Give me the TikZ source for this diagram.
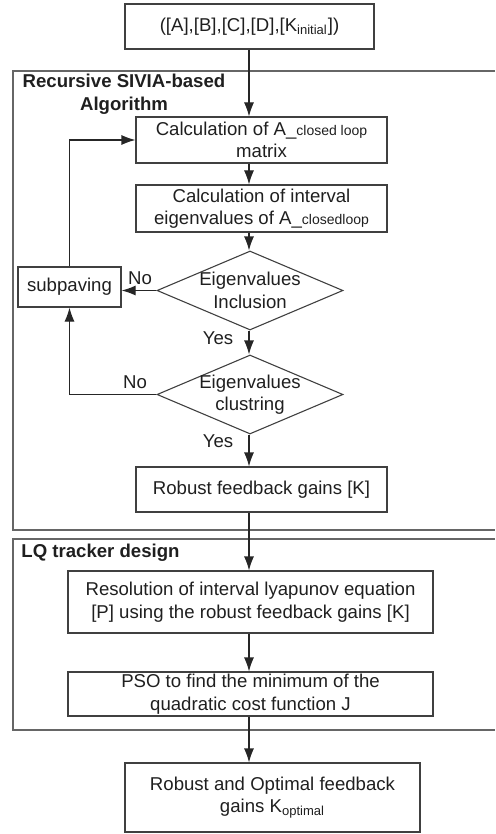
\documentclass[tikz,border=0pt]{standalone}
\usepackage{fontspec}
\setmainfont{Liberation Sans}
\usetikzlibrary{shapes.geometric,arrows.meta}

\newcommand{\sm}[1]{{\fontsize{7}{8}\selectfont #1}}

\tikzstyle{block}=[rectangle, draw=black!75, line width=0.55pt, text centered, align=center, inner sep=0pt]
\tikzstyle{decision}=[diamond, draw=black!75, line width=0.55pt, inner sep=0pt, minimum width=93pt, minimum height=39.5pt]
\tikzstyle{arrow}=[draw=black!85, line width=0.55pt, ->, >={Latex[length=7pt,width=5pt]}]
\tikzstyle{frame}=[draw=black!60, line width=0.85pt]
\tikzstyle{lbl}=[inner sep=0pt]

\begin{document}
\begin{tikzpicture}[x=0.5pt, y=-0.5pt, font=\fontsize{9.3}{11.2}\selectfont, text=black!88]
\useasboundingbox (0,0) rectangle (495,834);

% group frames, open on the right
\draw[frame](495,71)--(13,71)--(13,530)--(495,530);
\draw[frame](495,539)--(13,539)--(13,730)--(495,730);
\node(g1)[lbl, align=center, font=\fontsize{9.3}{11.6}\selectfont\bfseries] at (124,94) {Recursive SIVIA-based\\Algorithm};
\node(g2)[lbl, anchor=west, font=\fontsize{9.3}{11.2}\selectfont\bfseries] at (21,553) {LQ tracker design};

\node(in)[block, minimum width=124.5pt, minimum height=22.5pt] at (249.5,26.5) {([A],[B],[C],[D],[K\textsubscript{initial}])};
\node(calcA)[block, minimum width=125.5pt, minimum height=23pt] at (261.5,140) {Calculation of A\_\sm{closed loop}\\matrix};
\node(eig)[block, minimum width=125.5pt, minimum height=23.5pt] at (261.5,208.5) {Calculation of interval\\eigenvalues of A\_\sm{closedloop}};
\node(incl)[decision, label={[align=center]center:Eigenvalues\\Inclusion}] at (250,290.5) {};
\node(subp)[block, minimum width=51.5pt, minimum height=20pt] at (69.5,287) {subpaving};
\node(clus)[decision, label={[align=center]center:Eigenvalues\\clustring}] at (250,394.5) {};
\node(gains)[block, minimum width=125.5pt, minimum height=22.5pt] at (261.5,489.5) {Robust feedback gains [K]};
\node(lyap)[block, minimum width=182.5pt, minimum height=31pt] at (250.5,602) {Resolution of interval lyapunov equation\\{[P]} using the robust feedback gains [K]};
\node(pso)[block, minimum width=182.5pt, minimum height=22pt] at (250.5,694) {PSO to find the minimum of the\\quadratic cost function J};
\node(out)[block, minimum width=147.5pt, minimum height=34.5pt] at (272.5,797.5) {Robust and Optimal feedback\\gains K\textsubscript{optimal}};

\coordinate(spine) at (249,0);

\draw[arrow](spine |- in.south)--(spine |- calcA.north);
\draw[arrow](spine |- calcA.south)--(spine |- eig.north);
\draw[arrow](spine |- eig.south)--(spine |- incl.north);
\draw[arrow](incl.west)--(subp.east |- incl.west);
\draw[arrow](subp.north)|-(calcA.west);
\draw[arrow](spine |- incl.south)--(spine |- clus.north);
\draw[arrow](clus.west)-|(subp.south);
\draw[arrow](spine |- clus.south)--(spine |- gains.north);
\draw[arrow](spine |- gains.south)--(spine |- lyap.north);
\draw[arrow](spine |- lyap.south)--(spine |- pso.north);
\draw[arrow](spine |- pso.south)--(spine |- out.north);

\node(no1)[lbl] at (140,278) {No};
\node(yes1)[lbl] at (218,338) {Yes};
\node(no2)[lbl] at (135,382) {No};
\node(yes2)[lbl] at (218,441) {Yes};

\end{tikzpicture}
\end{document}
